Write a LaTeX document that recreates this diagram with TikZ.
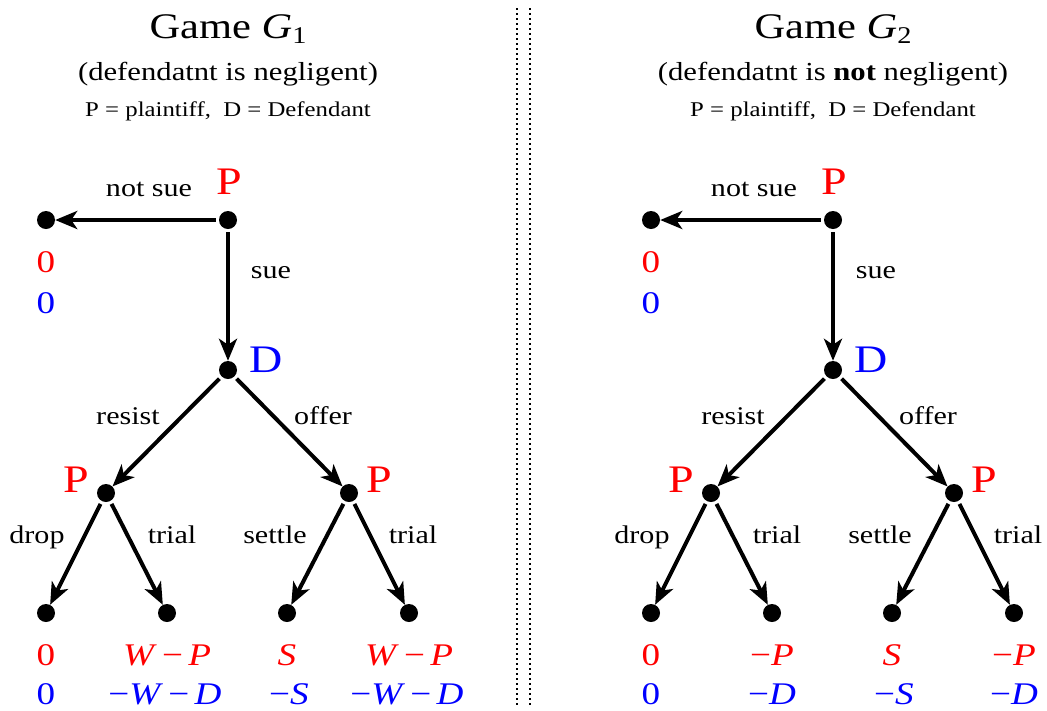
\documentclass[tikz,border=0pt]{standalone}
\usepackage{fontspec}
\setmainfont{Liberation Serif}[FakeStretch=1.18]
\usetikzlibrary{arrows.meta}
\newcommand\fsz[1]{\fontsize{#1}{#1}\selectfont}
\tikzset{
  dot/.style={circle, fill=black, inner sep=0pt, minimum size=18pt},
  arr/.style={line width=4pt, -{Stealth[length=22pt,width=18pt,inset=6pt]}, shorten <=3pt},
  lbl/.style={anchor=base, inner sep=0pt, font=\fsz{25.5}},
  plab/.style={anchor=base, inner sep=0pt, font=\fsz{39}, text=red},
  dlab/.style={anchor=base, inner sep=0pt, font=\fsz{39}, text=blue},
  pay1/.style={anchor=base, inner sep=0pt, font=\fsz{31.5}, text=red},
  pay2/.style={anchor=base, inner sep=0pt, font=\fsz{31.5}, text=blue},
  ttl/.style={anchor=base, inner sep=0pt, font=\fsz{36}},
  sub/.style={anchor=base, inner sep=0pt, font=\fsz{26}},
  leg/.style={anchor=base, inner sep=0pt, font=\fsz{21}},
  sepline/.style={line width=1.6pt, dash pattern=on 1.6pt off 3.4pt},
}
\begin{document}
\begin{tikzpicture}[x=1pt, y=-1pt]
\useasboundingbox (0,0) rectangle (1047,710);

% separator
\draw[sepline] (517,8) -- (517,706);
\draw[sepline] (530,8) -- (530,706);

% ---------- Game G1 ----------
\node[ttl] (t1) at (228,38) {Game \textit{G}\raisebox{-5pt}{\fsz{24}1}};
\node[sub] (s1) at (228,80) {(defendatnt is negligent)};
\node[leg] (g1) at (228,116) {P = plaintiff,\ \ D = Defendant};

\node[dot] (L-root) at (228,220) {};
\node[dot] (L-ns) at (46,220) {};
\node[dot] (L-D) at (228,370) {};
\node[dot] (L-A) at (106,493) {};
\node[dot] (L-B) at (349,493) {};
\node[dot] (L-l1) at (46,613) {};
\node[dot] (L-l2) at (167,613) {};
\node[dot] (L-l3) at (287,613) {};
\node[dot] (L-l4) at (409,613) {};

\draw[arr] (L-root) -- (L-ns);
\draw[arr] (L-root) -- (L-D);
\draw[arr] (L-D) -- (L-A);
\draw[arr] (L-D) -- (L-B);
\draw[arr] (L-A) -- (L-l1);
\draw[arr] (L-A) -- (L-l2);
\draw[arr] (L-B) -- (L-l3);
\draw[arr] (L-B) -- (L-l4);

\node[plab] (L-pr) at (229,194) {P};
\node[dlab] (L-dl) at (266,372) {D};
\node[plab] (L-pa) at (76,492) {P};
\node[plab] (L-pb) at (379,492) {P};

\node[lbl] (L-e1) at (149,196) {not sue};
\node[lbl] (L-e2) at (271,278) {sue};
\node[lbl] (L-e3) at (128,424) {resist};
\node[lbl] (L-e4) at (323,424) {offer};
\node[lbl] (L-e5) at (37,543) {drop};
\node[lbl] (L-e6) at (172,543) {trial};
\node[lbl] (L-e7) at (275,543) {settle};
\node[lbl] (L-e8) at (413,543) {trial};

\node[pay1] (L-p0a) at (46,272) {0};
\node[pay2] (L-p0b) at (46,313) {0};
\node[pay1] (L-p1a) at (46,665) {0};
\node[pay2] (L-p1b) at (46,704) {0};
\node[pay1] (L-p2a) at (167,665) {\textit{W}\,−\,\textit{P}};
\node[pay2] (L-p2b) at (165,704) {−\textit{W}\,−\,\textit{D}};
\node[pay1] (L-p3a) at (287,665) {\textit{S}};
\node[pay2] (L-p3b) at (289,704) {−\textit{S}};
\node[pay1] (L-p4a) at (409,665) {\textit{W}\,−\,\textit{P}};
\node[pay2] (L-p4b) at (407,704) {−\textit{W}\,−\,\textit{D}};

% ---------- Game G2 ----------
\begin{scope}[xshift=605pt]
\node[ttl] (t2) at (228,38) {Game \textit{G}\raisebox{-5pt}{\fsz{24}2}};
\node[sub] (s2) at (228,80) {(defendatnt is \textbf{not} negligent)};
\node[leg] (g2) at (228,116) {P = plaintiff,\ \ D = Defendant};

\node[dot] (R-root) at (228,220) {};
\node[dot] (R-ns) at (46,220) {};
\node[dot] (R-D) at (228,370) {};
\node[dot] (R-A) at (106,493) {};
\node[dot] (R-B) at (349,493) {};
\node[dot] (R-l1) at (46,613) {};
\node[dot] (R-l2) at (167,613) {};
\node[dot] (R-l3) at (287,613) {};
\node[dot] (R-l4) at (409,613) {};

\draw[arr] (R-root) -- (R-ns);
\draw[arr] (R-root) -- (R-D);
\draw[arr] (R-D) -- (R-A);
\draw[arr] (R-D) -- (R-B);
\draw[arr] (R-A) -- (R-l1);
\draw[arr] (R-A) -- (R-l2);
\draw[arr] (R-B) -- (R-l3);
\draw[arr] (R-B) -- (R-l4);

\node[plab] (R-pr) at (229,194) {P};
\node[dlab] (R-dl) at (266,372) {D};
\node[plab] (R-pa) at (76,492) {P};
\node[plab] (R-pb) at (379,492) {P};

\node[lbl] (R-e1) at (149,196) {not sue};
\node[lbl] (R-e2) at (271,278) {sue};
\node[lbl] (R-e3) at (128,424) {resist};
\node[lbl] (R-e4) at (323,424) {offer};
\node[lbl] (R-e5) at (37,543) {drop};
\node[lbl] (R-e6) at (172,543) {trial};
\node[lbl] (R-e7) at (275,543) {settle};
\node[lbl] (R-e8) at (413,543) {trial};

\node[pay1] (R-p0a) at (46,272) {0};
\node[pay2] (R-p0b) at (46,313) {0};
\node[pay1] (R-p1a) at (46,665) {0};
\node[pay2] (R-p1b) at (46,704) {0};
\node[pay1] (R-p2a) at (167,665) {−\textit{P}};
\node[pay2] (R-p2b) at (167,704) {−\textit{D}};
\node[pay1] (R-p3a) at (287,665) {\textit{S}};
\node[pay2] (R-p3b) at (289,704) {−\textit{S}};
\node[pay1] (R-p4a) at (409,665) {−\textit{P}};
\node[pay2] (R-p4b) at (409,704) {−\textit{D}};
\end{scope}
\end{tikzpicture}
\end{document}
